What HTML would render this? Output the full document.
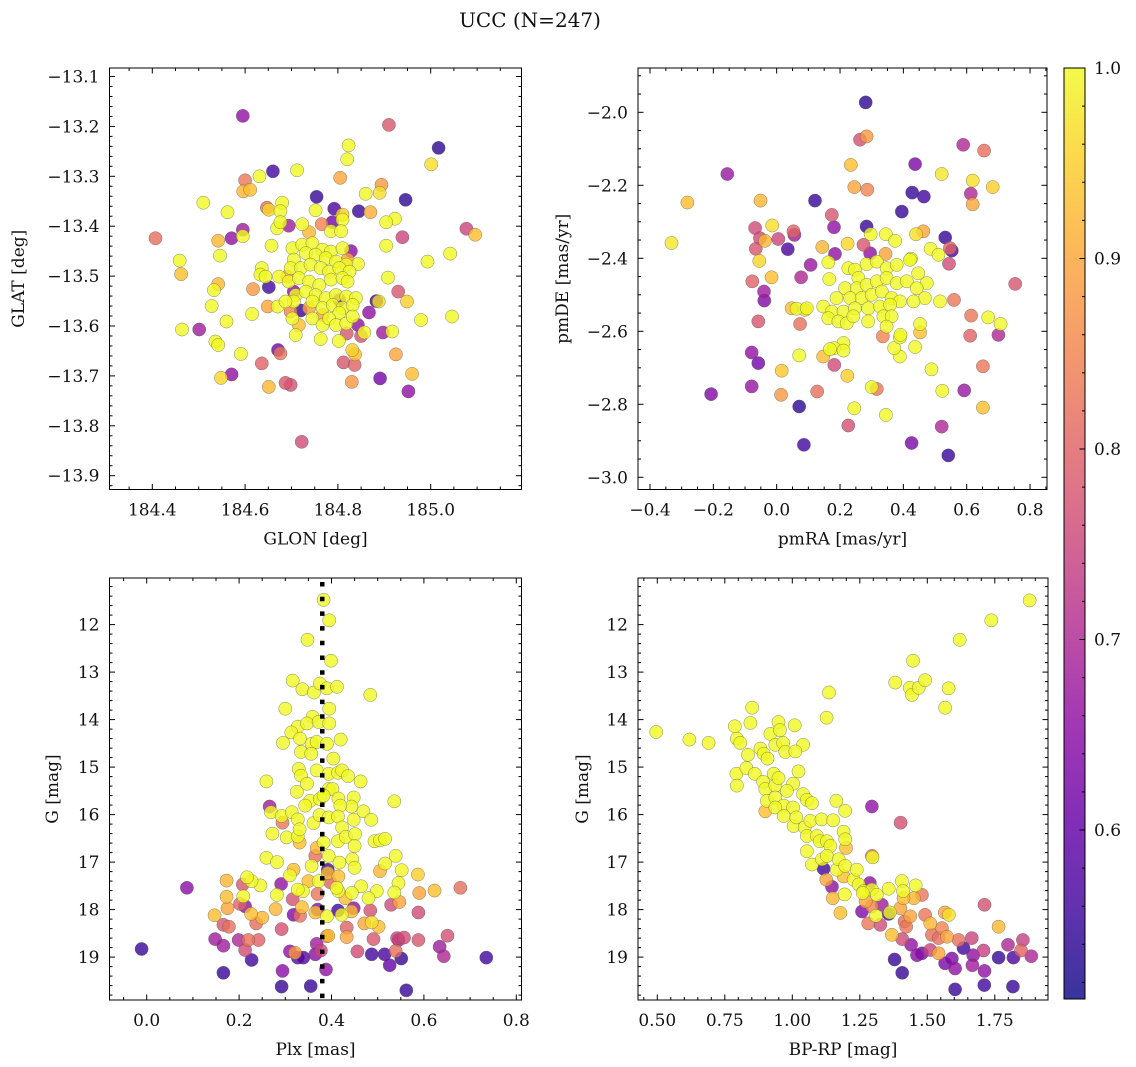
<!DOCTYPE html>
<html><head><meta charset="utf-8"><title>UCC (N=247)</title>
<style>
html,body{margin:0;padding:0;background:#fff;}
svg{display:block;font-family:"DejaVu Serif","Liberation Serif",serif;}
</style></head>
<body>
<svg id="chart" width="1136" height="1067" viewBox="0 0 1136 1067" xmlns="http://www.w3.org/2000/svg">
<rect x="0" y="0" width="1136" height="1067" fill="#fff"/>
<text x="530" y="27" font-size="20" text-anchor="middle" fill="#111">UCC (N=247)</text>
</svg>
<script>
// ---- Panel 1: GLON / GLAT ----
const glonVals=[184.595,184.910,185.017,184.823,184.820,184.660,184.712,184.631,184.600,184.596,184.611,184.805,185.001,184.894,184.890,184.860,184.754,184.946,184.510,184.845,184.870,184.792,184.752,184.810,184.562,184.647,184.680,184.676,184.651,184.810,184.765,184.788,184.723,184.694,184.669,184.676,184.595,184.595,184.571,184.407,185.077,185.096,184.923,184.904,184.939,184.785,184.807,184.738,184.542,184.657,184.904,184.828,184.546,184.459,184.462,184.993,185.042,184.843,184.908,184.542,184.533,184.617,184.651,184.528,184.649,184.670,184.720,184.615,184.698,184.560,184.464,184.501,184.930,184.949,184.883,184.888,184.867,184.979,185.046,184.843,184.857,184.897,184.917,184.850,184.819,184.802,184.709,184.716,184.763,184.536,184.542,184.671,184.676,184.591,184.831,184.837,184.925,184.812,184.836,184.636,184.960,184.548,184.571,184.891,184.952,184.830,184.687,184.698,184.651,184.722,
184.702,184.723,184.745,184.767,184.785,184.810,184.705,184.731,184.752,184.774,184.796,184.818,184.698,184.720,184.741,184.763,184.781,184.803,184.825,184.636,184.633,184.644,184.673,184.694,184.716,184.738,184.760,184.785,184.810,184.821,184.709,184.731,184.752,184.774,184.796,184.818,184.839,184.705,184.745,184.767,184.789,184.810,184.832,184.803,184.745,184.767,184.781,184.796,184.818,184.832,184.702,184.687,
184.691,184.705,184.803,184.821,184.738,184.767];
const glatVals=[-13.179,-13.197,-13.243,-13.238,-13.266,-13.290,-13.288,-13.300,-13.308,-13.330,-13.327,-13.303,-13.276,-13.317,-13.333,-13.335,-13.341,-13.347,-13.353,-13.370,-13.372,-13.365,-13.368,-13.377,-13.372,-13.363,-13.353,-13.370,-13.367,-13.387,-13.396,-13.392,-13.396,-13.399,-13.404,-13.392,-13.407,-13.420,-13.424,-13.424,-13.405,-13.417,-13.385,-13.392,-13.422,-13.410,-13.410,-13.412,-13.429,-13.439,-13.439,-13.450,-13.459,-13.469,-13.496,-13.471,-13.455,-13.476,-13.503,-13.516,-13.528,-13.526,-13.522,-13.560,-13.561,-13.561,-13.569,-13.576,-13.571,-13.591,-13.607,-13.607,-13.531,-13.551,-13.550,-13.551,-13.573,-13.588,-13.581,-13.598,-13.613,-13.613,-13.611,-13.620,-13.615,-13.630,-13.618,-13.598,-13.626,-13.631,-13.638,-13.648,-13.655,-13.656,-13.648,-13.657,-13.657,-13.673,-13.678,-13.675,-13.696,-13.704,-13.697,-13.705,-13.731,-13.712,-13.714,-13.718,-13.722,-13.832,
-13.444,-13.437,-13.434,-13.447,-13.451,-13.444,-13.467,-13.454,-13.457,-13.464,-13.471,-13.477,-13.484,-13.484,-13.477,-13.484,-13.491,-13.484,-13.491,-13.484,-13.497,-13.501,-13.501,-13.511,-13.504,-13.511,-13.518,-13.507,-13.504,-13.511,-13.538,-13.531,-13.538,-13.544,-13.538,-13.541,-13.544,-13.551,-13.551,-13.564,-13.558,-13.564,-13.558,-13.574,-13.585,-13.598,-13.585,-13.598,-13.595,-13.581,-13.585,-13.551,
-13.501,-13.531,-13.548,-13.467,-13.564,-13.578];
const probA=[.66,.78,.54,1,1,.56,1,1,.83,.92,.93,.9,.97,.88,.97,1,.55,.54,1,.55,.91,.57,1,.95,1,.82,1,1,.96,1,.85,.62,1,.68,1,1,.68,1,.66,.82,.75,.93,1,1,.75,1,1,.92,.92,1,1,.65,1,1,.93,1,1,1,1,.92,1,.88,.56,1,.9,1,.55,1,.85,1,1,.68,.78,.95,.55,.97,.66,1,1,.66,1,.68,1,.77,.78,1,1,.93,1,1,1,.62,.83,1,.95,.93,.9,.78,.8,.8,.93,.96,.66,.62,.66,.88,.78,.77,.92,.76,
1,1,1,1,1,1,1,1,1,1,1,1,1,1,1,1,1,1,1,1,1,1,1,1,1,1,1,1,1,1,1,1,1,1,1,1,1,1,1,1,1,1,1,1,1,1,1,1,1,1,1,1,
.9,.66,.65,.9,.9,.9];

// ---- Panel 2: pmRA / pmDE ----
const pmraVals=[0.281,0.263,0.284,-0.156,-0.282,-0.332,0.234,0.245,0.286,0.121,0.174,0.181,-0.051,0.437,0.428,0.465,0.395,0.521,0.589,0.655,0.619,0.613,0.619,0.682,0.753,-0.068,-0.014,-0.053,-0.037,-0.066,-0.055,0.005,0.053,0.056,0.035,0.107,0.077,-0.016,-0.077,-0.040,-0.039,-0.058,0.074,0.047,0.089,0.144,0.184,0.224,0.274,0.295,0.344,0.284,0.297,0.345,0.374,0.440,0.463,0.486,0.511,0.532,0.553,0.547,0.544,0.424,0.560,0.614,0.611,0.668,0.707,0.700,0.651,0.592,0.651,0.523,0.489,0.521,0.542,0.426,0.345,0.300,0.316,0.245,0.226,0.223,0.128,0.071,0.086,0.014,0.016,0.071,0.147,0.182,-0.079,-0.058,-0.079,-0.207,0.437,0.453,0.453,0.389,0.371,0.389,0.391,0.335,0.211,0.181,0.211,0.168,
0.163,0.166,0.226,0.247,0.258,0.284,0.316,0.347,0.379,0.421,0.447,0.474,0.216,0.253,0.284,0.316,0.347,0.379,0.411,0.442,0.468,0.189,0.232,0.268,0.300,0.332,0.363,0.389,0.432,0.147,0.174,0.211,0.247,0.289,0.326,0.358,0.163,0.195,0.221,0.242,0.289,0.337,0.363,0.347,0.516,0.063,0.095];
const pmdeVals=[-1.973,-2.075,-2.066,-2.169,-2.247,-2.358,-2.144,-2.205,-2.212,-2.242,-2.281,-2.315,-2.242,-2.142,-2.220,-2.231,-2.272,-2.169,-2.089,-2.105,-2.187,-2.223,-2.252,-2.205,-2.470,-2.317,-2.310,-2.345,-2.352,-2.374,-2.407,-2.347,-2.326,-2.336,-2.375,-2.418,-2.452,-2.452,-2.463,-2.491,-2.516,-2.573,-2.580,-2.537,-2.541,-2.369,-2.388,-2.360,-2.363,-2.386,-2.388,-2.313,-2.334,-2.334,-2.352,-2.334,-2.326,-2.374,-2.390,-2.343,-2.379,-2.372,-2.415,-2.401,-2.514,-2.557,-2.612,-2.562,-2.580,-2.610,-2.696,-2.762,-2.809,-2.763,-2.704,-2.861,-2.940,-2.906,-2.829,-2.753,-2.758,-2.811,-2.858,-2.722,-2.765,-2.806,-2.911,-2.774,-2.708,-2.666,-2.669,-2.692,-2.658,-2.687,-2.751,-2.772,-2.643,-2.603,-2.580,-2.669,-2.646,-2.617,-2.610,-2.614,-2.632,-2.646,-2.653,-2.649,
-2.411,-2.457,-2.427,-2.431,-2.454,-2.416,-2.409,-2.427,-2.418,-2.404,-2.441,-2.468,-2.482,-2.482,-2.473,-2.463,-2.454,-2.468,-2.463,-2.482,-2.509,-2.509,-2.509,-2.509,-2.500,-2.491,-2.509,-2.518,-2.518,-2.532,-2.546,-2.546,-2.537,-2.537,-2.532,-2.527,-2.564,-2.573,-2.578,-2.559,-2.573,-2.559,-2.559,-2.587,-2.518,-2.538,-2.537];
const probB=[.54,.77,.88,.67,.93,.98,.93,.9,.85,.55,.78,.66,.92,.63,.55,.56,.55,.98,.7,.82,.97,.7,.9,.95,.78,.76,.97,.76,.92,.78,.96,.75,.8,.68,.57,.67,.7,.93,.8,.68,.64,.78,.82,.93,.96,.92,.66,.96,.78,.66,.9,.55,1,1,1,.97,.9,1,1,.55,.57,.8,.76,1,.83,.83,.8,1,1,.7,.83,.67,.93,1,1,.7,.55,.63,1,1,.83,1,.77,.95,.82,.54,.56,.88,.94,1,.93,.76,.66,.62,.67,.64,1,.93,1,1,1,1,1,.85,1,1,1,1,
1,1,1,1,1,1,1,1,1,1,1,1,1,1,1,1,1,1,1,1,1,1,1,1,1,1,1,1,1,1,1,1,1,1,1,1,1,1,1,1,1,1,1,1,1,1,1];

// ---- Panel 3: Plx / G ----
const plxVals=[.383,.395,.348,.399,.316,.337,.362,.375,.390,.412,.484,.395,.300,.359,.327,.347,.372,.395,.313,.332,.295,.420,.357,.368,.390,.334,.356,.404,.329,.334,.368,.394,.414,.423,.436,.463,.259,.347,.325,.394,.402,.354,.343,.375,.383,.415,.448,.443,.419,.536,.266,.269,.292,.314,.327,.361,.374,.394,.414,.423,.448,.469,.486,.294,.272,.303,.327,.331,.331,.368,.383,.414,.431,.451,.450,.493,.505,.516,.365,.394,.417,.445,.450,.516,.539,.259,.282,.357,.392,.392,.552,.587,.505,.545,.536,.498,.480,.464,.444,.430,.415,.411,.415,.397,.372,.350,.318,.310,.291,.338,.327,.282,.246,.227,.217,.209,.173,.173,.208,.202,.213,.175,.226,.250,.237,.147,.166,.178,.087,.148,.166,.199,.213,.220,.242,.227,.166,-.011,.279,.292,.316,.318,.332,.336,.365,.370,.370,.390,.414,.422,.448,.443,.433,.433,.471,.487,.502,.484,.529,.547,.588,.623,.590,.679,.651,.588,.542,.557,.545,.539,.491,.456,.393,.390,.368,.377,.365,.321,.310,.327,.339,.294,.388,.355,.292,.487,.515,.526,.551,.562,.634,.643,.735];
const gVals3=[11.48,11.91,12.32,12.76,13.18,13.36,13.43,13.24,13.34,13.31,13.48,13.77,13.77,13.94,14.15,14.08,14.05,14.08,14.27,14.40,14.49,14.42,14.51,14.47,14.51,14.68,14.72,14.82,15.04,15.18,15.07,15.14,15.12,15.07,15.19,15.30,15.30,15.35,15.52,15.46,15.46,15.71,15.81,15.67,15.60,15.66,15.64,15.83,15.81,15.72,15.83,15.95,16.03,15.95,16.10,16.18,16.01,16.06,16.04,16.27,16.11,15.93,16.11,16.17,16.40,16.48,16.46,16.59,16.31,16.70,16.59,16.56,16.47,16.41,16.66,16.56,16.54,16.51,16.87,16.87,17.01,16.94,17.12,17.03,16.87,16.91,17.00,17.08,17.16,17.23,17.17,17.26,17.19,17.44,17.64,17.61,17.76,17.51,17.65,17.76,17.61,17.54,17.30,17.42,17.40,17.40,17.16,17.28,17.46,17.61,17.58,17.69,17.49,17.40,17.32,17.72,17.39,17.73,17.47,17.88,17.93,17.97,18.09,18.17,18.29,18.12,18.32,18.36,17.54,18.62,18.76,18.64,18.85,18.64,18.64,19.06,19.33,18.83,17.99,18.41,17.78,18.11,18.13,17.95,18.06,17.67,18.00,18.14,18.02,18.11,17.97,18.04,18.38,18.58,18.29,18.27,18.36,18.02,17.90,17.84,18.06,17.60,17.65,17.54,18.55,18.64,18.60,18.59,18.64,18.87,18.62,18.88,18.55,18.56,18.72,18.86,18.94,18.91,18.88,19.01,19.01,19.29,19.26,19.61,19.62,18.94,18.94,19.17,19.03,19.70,18.78,18.98,19.01];
const probC=[1,1,1,1,1,1,1,1,1,1,1,1,1,1,1,1,1,1,1,1,1,1,1,1,1,1,1,1,1,1,1,1,1,1,1,1,1,1,1,1,1,1,1,1,1,1,1,1,1,1,.68,1,1,1,1,1,1,1,1,1,1,1,1,.83,1,1,1,.93,1,.92,1,1,1,1,1,1,1,1,.82,1,1,1,1,1,1,1,1,1,.56,.93,1,.95,.92,1,1,1,1,1,1,.93,1,1,.93,.8,1,.93,.93,1,.66,1,1,1,1,1,1,1,.92,.93,.78,.8,.66,.9,.93,.92,.82,.93,.78,.82,.65,.68,.68,.7,.76,.82,.8,.56,.55,.55,.92,.77,.77,.64,.82,.93,.93,.83,.65,1,.56,1,.66,.93,.8,.9,.9,.97,.93,.77,.76,.9,.76,.93,.9,.82,.77,.78,.75,.76,.68,.82,.78,.76,.93,.85,.68,.75,.65,.88,.66,.58,.58,.65,.66,.55,.55,.56,.57,.6,.55,.55,.68,.7,.56];

// ---- Panel 4: BP-RP / G ----
const bprpVals=[0.496,0.619,0.690,0.787,0.795,0.807,0.851,0.845,0.836,0.793,0.795,0.830,0.861,0.882,0.894,0.908,0.892,0.900,0.906,0.900,0.931,0.937,0.949,0.919,0.937,0.949,0.954,0.966,0.974,1.009,1.040,1.011,1.023,1.003,0.980,0.937,0.968,1.003,0.937,0.968,1.005,1.040,1.054,1.073,1.015,1.046,1.067,1.108,1.054,1.054,1.073,1.091,1.102,1.128,1.141,1.110,1.128,1.163,1.151,1.196,1.190,1.196,1.199,1.136,1.127,1.295,1.401,1.381,1.447,1.435,1.443,1.468,1.492,1.579,1.566,1.620,1.737,1.879,
1.116,1.126,1.147,1.150,1.178,1.165,1.172,1.190,1.196,1.194,1.227,1.239,1.246,1.264,1.287,1.295,1.295,1.297,1.261,1.313,1.357,1.281,1.310,1.258,1.326,1.272,1.295,1.332,1.361,1.357,1.369,1.400,1.406,1.410,1.412,1.437,1.422,1.416,1.457,1.450,1.480,1.407,1.440,1.462,1.480,1.379,1.407,1.492,1.511,1.517,1.542,1.554,1.565,1.580,1.573,1.616,1.511,1.542,1.566,1.591,1.603,1.634,1.665,1.670,1.667,1.708,1.712,1.712,1.711,1.603,1.764,1.764,1.799,1.819,1.817,1.854,1.847,1.885];
const gVals4=[14.26,14.42,14.49,14.14,14.40,14.49,13.75,14.07,14.74,15.14,15.39,15.02,15.14,14.61,14.72,14.82,15.31,15.46,15.71,15.93,15.14,15.39,15.23,14.30,14.53,14.05,14.22,14.49,14.68,14.12,14.53,14.67,15.09,15.35,15.50,15.64,15.81,15.85,15.85,16.03,16.24,15.57,15.69,15.76,16.06,16.27,16.13,16.10,16.45,16.77,17.05,16.45,16.56,16.56,16.66,16.94,16.87,15.71,16.12,15.92,16.36,16.52,16.70,13.43,13.96,15.83,16.17,13.22,12.76,13.33,13.48,13.33,13.17,13.34,13.75,12.32,11.91,11.49,
17.14,17.37,17.52,17.76,18.07,17.16,16.94,17.30,17.08,17.68,17.37,17.16,17.47,17.61,17.44,17.58,16.87,16.90,17.65,17.69,17.56,18.29,18.13,18.04,18.32,17.83,17.93,17.90,18.06,18.09,18.53,17.97,17.40,17.61,17.76,18.14,18.36,18.25,17.49,17.76,17.69,18.62,18.74,18.96,18.92,19.05,19.33,18.11,18.29,18.53,18.60,18.39,18.06,18.11,18.57,18.64,18.85,18.92,19.13,19.03,19.24,18.81,18.60,18.96,19.17,18.86,17.90,19.29,19.59,19.68,18.36,19.01,18.74,19.01,19.62,18.64,18.86,18.98];
const probD=[1,1,1,1,1,1,1,1,1,1,1,1,1,1,1,1,1,1,1,.93,1,1,1,1,1,1,1,1,1,1,1,1,1,1,1,1,1,1,1,1,1,1,1,1,1,1,1,1,1,1,1,1,1,1,1,1,1,1,1,1,1,1,.93,1,1,.66,.77,1,1,1,1,1,1,1,1,1,1,1,
.56,.9,.66,.92,.93,1,1,.93,1,1,1,1,1,1,.66,1,.84,1,1,1,1,.83,1,.64,.76,.9,.85,.68,1,.57,.93,.9,1,1,.93,.9,.83,.82,1,.92,.83,.76,.66,.65,.62,.55,.55,.83,.92,.82,.82,.85,.9,.97,.9,.82,.75,.9,.63,.64,.66,.56,.75,.66,.68,.74,.77,.66,.56,.55,.92,.55,.7,.57,.55,.74,.8,.7];

// ---- Colorbar ----
const cbarTicks=[0.6,0.7,0.8,0.9,1.0];
const plxLine=[0.38];

const VMIN=0.5113, VMAX=1.0;
const PLASMA=[[13,8,135],[65,4,157],[106,0,168],[143,13,164],[177,42,144],[204,71,120],[225,100,98],[242,132,75],[252,166,54],[252,206,37],[240,249,33]];
function plasma(t){t=Math.max(0,Math.min(1,t));const f=t*10,i=Math.min(9,Math.floor(f)),u=f-i;const a=PLASMA[i],b=PLASMA[i+1];
 return 'rgb('+a.map((c,k)=>Math.round(c+(b[k]-c)*u)).join(',')+')';}
function colorOf(p){return plasma((p-VMIN)/(VMAX-VMIN));}

const NS='http://www.w3.org/2000/svg';
const svg=document.getElementById('chart');
function el(tag,attrs,parent){const e=document.createElementNS(NS,tag);for(const k in attrs)e.setAttribute(k,attrs[k]);(parent||svg).appendChild(e);return e;}

const panels=[
 {key:'glon-glat',L:109.5,R:521.5,T:68,B:489.5,xv0:184.4,xp0:152.3,xs:464,yv0:-13.1,yp0:76.5,ys:-499,
  xMinor:0.05,xRatio:4,xDec:1,yMinor:0.02,yRatio:5,yDec:1,xt:'GLON [deg]',yt:'GLAT [deg]',ytx:19,
  xs_:glonVals,ys_:glatVals,ps:probA},
 {key:'pmra-pmde',L:638,R:1047,T:68,B:489.5,xv0:-0.4,xp0:650,xs:316.7,yv0:-2.0,yp0:112.3,ys:-365,
  xMinor:0.05,xRatio:4,xDec:1,yMinor:0.05,yRatio:4,yDec:1,xt:'pmRA [mas/yr]',yt:'pmDE [mas/yr]',ytx:563,
  xs_:pmraVals,ys_:pmdeVals,ps:probB},
 {key:'plx-g',L:109.5,R:521.5,T:578,B:1000,xv0:0,xp0:146.7,xs:462,yv0:12,yp0:624.6,ys:47.5,
  xMinor:0.05,xRatio:4,xDec:1,yMinor:0.2,yRatio:5,yDec:0,xt:'Plx [mas]',yt:'G [mag]',ytx:53,
  xs_:plxVals,ys_:gVals3,ps:probC},
 {key:'bprp-g',L:638,R:1048,T:578,B:1000,xv0:0.5,xp0:657.3,xs:270,yv0:12,yp0:624.6,ys:47.5,
  xMinor:0.05,xRatio:5,xDec:2,yMinor:0.2,yRatio:5,yDec:0,xt:'BP-RP [mag]',yt:'G [mag]',ytx:583,
  xs_:bprpVals,ys_:gVals4,ps:probD}
];
function fmt(v,d){return v.toFixed(d).replace('-','\u2212');}

panels.forEach(P=>{
 const sx=v=>P.xp0+(v-P.xv0)*P.xs, sy=v=>P.yp0+(v-P.yv0)*P.ys;
 const g=el('g',{});
 
 
 const clip=el('clipPath',{id:'clip-'+P.key},g);
 el('rect',{x:P.L,y:P.T,width:P.R-P.L,height:P.B-P.T},clip);
 const pts=el('g',{'clip-path':'url(#clip-'+P.key+')'},g);
 
 
 const idx=P.ps.map((_,i)=>i).sort((a,b)=>P.ps[a]-P.ps[b]);
 idx.forEach(i=>{
  const c=el('circle',{cx:sx(P.xs_[i]).toFixed(1),cy:sy(P.ys_[i]).toFixed(1),r:6.6,fill:colorOf(P.ps[i]),'fill-opacity':0.8,stroke:'#555','stroke-width':0.5,'stroke-opacity':0.7},pts);
  
  
 });
 if(P.key==='plx-g'){
  plxLine.forEach(v=>{
   const ln=el('line',{x1:sx(v),x2:sx(v),y1:P.T+4,y2:P.B,stroke:'#000','stroke-width':4.5,'stroke-dasharray':'4.5 10.2'},g);
   
   
  });
 }
 const fr=el('rect',{x:P.L,y:P.T,width:P.R-P.L,height:P.B-P.T,fill:'none',stroke:'#000','stroke-width':1},g);
 
 
 const xlo=P.xv0+(P.L-P.xp0)/P.xs, xhi=P.xv0+(P.R-P.xp0)/P.xs;
 for(let k=Math.ceil(xlo/P.xMinor-1e-6);k<=Math.floor(xhi/P.xMinor+1e-6);k++){
  const v=k*P.xMinor, px=sx(v), major=(Math.abs(k%P.xRatio)===0), len=major?5.5:3;
  el('line',{x1:px,x2:px,y1:P.B,y2:P.B-len,stroke:'#000','stroke-width':1},g);
  el('line',{x1:px,x2:px,y1:P.T,y2:P.T+len,stroke:'#000','stroke-width':1},g);
  if(major){const t=el('text',{x:px,y:P.B+26,'font-size':17,'text-anchor':'middle',fill:'#111'},g);t.textContent=fmt(v,P.xDec);
   }
 }
 const ya=P.yv0+(P.T-P.yp0)/P.ys, yb=P.yv0+(P.B-P.yp0)/P.ys, ylo=Math.min(ya,yb), yhi=Math.max(ya,yb);
 for(let k=Math.ceil(ylo/P.yMinor-1e-6);k<=Math.floor(yhi/P.yMinor+1e-6);k++){
  const v=k*P.yMinor, py=sy(v), major=(Math.abs(k%P.yRatio)===0), len=major?5.5:3;
  el('line',{x1:P.L,x2:P.L+len,y1:py,y2:py,stroke:'#000','stroke-width':1},g);
  el('line',{x1:P.R,x2:P.R-len,y1:py,y2:py,stroke:'#000','stroke-width':1},g);
  if(major){const t=el('text',{x:P.L-10,y:py+6,'font-size':17,'text-anchor':'end',fill:'#111'},g);t.textContent=fmt(v,P.yDec);
   }
 }
 const xt=el('text',{x:(P.L+P.R)/2,y:P.B+55,'font-size':17,'text-anchor':'middle',fill:'#111'},g);
 xt.textContent=P.xt;
 
 
 const cy=(P.T+P.B)/2;
 const yt=el('text',{x:P.ytx,y:cy,'font-size':17,'text-anchor':'middle','dominant-baseline':'central',fill:'#111',transform:'rotate(-90 '+P.ytx+' '+cy+')'},g);
 yt.textContent=P.yt;
 
 
});

(function(){
 const L=1064,R=1085,T=68,B=999;
 const sc=v=>B-(v-VMIN)/(VMAX-VMIN)*(B-T);
 const g=el('g',{});
 
 
 const defs=el('defs',{},g);
 const lg=el('linearGradient',{id:'cbgrad',x1:0,y1:1,x2:0,y2:0},defs);
 for(let i=0;i<=20;i++){el('stop',{offset:(i/20).toFixed(3),'stop-color':plasma(i/20)},lg);}
 const r=el('rect',{x:L,y:T,width:R-L,height:B-T,fill:'url(#cbgrad)','fill-opacity':0.82},g);
 
 
 el('rect',{x:L,y:T,width:R-L,height:B-T,fill:'none',stroke:'#000','stroke-width':1},g);
 for(let k=Math.ceil(VMIN/0.02);k<=50;k++){
  const v=k*0.02, py=sc(v), major=(k%5===0), len=major?5.5:3;
  el('line',{x1:R,x2:R-len,y1:py,y2:py,stroke:'#000','stroke-width':1},g);
 }
 cbarTicks.forEach(v=>{
  const t=el('text',{x:R+9,y:sc(v)+6,'font-size':17,fill:'#111'},g);
  t.textContent=v.toFixed(1);
  
  
 });
})();
</script>
</body></html>
